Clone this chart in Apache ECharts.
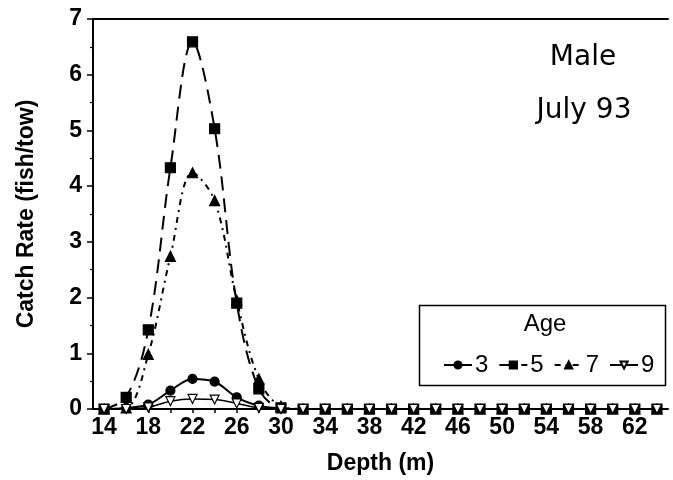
<!DOCTYPE html>
<html>
<head>
<meta charset="utf-8">
<script src="https://cdn.jsdelivr.net/npm/echarts@6/dist/echarts.min.js"></script>
<style>
  html, body { margin: 0; padding: 0; background: #fff; }
  #chart { width: 673px; height: 480px; }
</style>
</head>
<body>
<div id="chart"></div>
<script>
// depth (m), one category every 2 m
var depths = ['14','16','18','20','22','24','26','28','30','32','34','36','38','40','42',
              '44','46','48','50','52','54','56','58','60','62','64'];

// catch rate (fish/tow) by age
var age3 = [0, 0.02, 0.08, 0.33, 0.54, 0.49, 0.21, 0.06, 0.01, 0, 0, 0, 0, 0, 0, 0, 0, 0, 0, 0, 0, 0, 0, 0, 0, 0];
var age5 = [0, 0.21, 1.42, 4.33, 6.59, 5.03, 1.90, 0.36, 0.02, 0, 0, 0, 0, 0, 0, 0, 0, 0, 0, 0, 0, 0, 0, 0, 0, 0];
var age7 = [0, 0.02, 0.98, 2.74, 4.24, 3.74, 1.95, 0.54, 0.05, 0, 0, 0, 0, 0, 0, 0, 0, 0, 0, 0, 0, 0, 0, 0, 0, 0];
var age9 = [0, 0, 0.03, 0.14, 0.18, 0.17, 0.10, 0.02, 0, 0, 0, 0, 0, 0, 0, 0, 0, 0, 0, 0, 0, 0, 0, 0, 0, 0];

var font = 'Liberation Sans, Arial, sans-serif';

var chart = echarts.init(document.getElementById('chart'));

function lineSeries(name, data, symbol, size, dash, width, symColor) {
    return {
        name: name,
        type: 'line',
        data: data,
        smooth: 0.35,
        symbol: symbol,
        symbolSize: size,
        showSymbol: true,
        lineStyle: { color: '#000', width: width, type: dash },
        itemStyle: { color: symColor, borderColor: '#000', borderWidth: 1.2 },
        emphasis: { disabled: true }
    };
}

var option = {
    animation: false,
    backgroundColor: '#fff',
    grid: { left: 93, right: 5, top: 19, bottom: 70 },
    legend: {
        left: 438,
        top: 348,
        itemWidth: 28,
        itemHeight: 9,
        itemGap: 10,
        textStyle: { fontFamily: font, fontSize: 24, color: '#000', padding: [0, 0, 0, -2] },
        data: ['3', '5', '7', '9']
    },
    graphic: [
        { type: 'rect', shape: { x: 419.5, y: 305.5, width: 246, height: 80 },
          style: { fill: '#fff', stroke: '#000', lineWidth: 1.5 }, z: 0 },
        { type: 'text', x: 545, y: 324, style: { text: 'Age', fontFamily: font, fontSize: 24,
          fill: '#000', align: 'center', verticalAlign: 'middle' } },
        { type: 'text', x: 583, y: 58, style: { text: 'Male', fontFamily: 'DejaVu Sans, sans-serif',
          fontSize: 28, fill: '#000', align: 'center', verticalAlign: 'middle' } },
        { type: 'text', x: 584, y: 111, style: { text: 'July 93', fontFamily: 'DejaVu Sans, sans-serif',
          fontSize: 28, fill: '#000', align: 'center', verticalAlign: 'middle' } }
    ],
    xAxis: [{
        type: 'category',
        data: depths,
        boundaryGap: true,
        name: 'Depth (m)',
        nameLocation: 'middle',
        nameGap: 43,
        nameTextStyle: { fontFamily: font, fontSize: 23, fontWeight: 'bold', color: '#000' },
        axisLine: { lineStyle: { color: '#000', width: 2 } },
        axisTick: { show: true, alignWithLabel: true, interval: 0, length: 4, lineStyle: { color: '#000', width: 1.5 } },
        axisLabel: { interval: 1, margin: 7, fontFamily: font, fontSize: 23, fontWeight: 'bold', color: '#000' },
        splitLine: { show: false }
    }, {
        type: 'category',
        data: depths,
        position: 'top',
        axisLine: { lineStyle: { color: '#000', width: 2 } },
        axisTick: { show: false },
        axisLabel: { show: false }
    }],
    yAxis: {
        type: 'value',
        min: 0,
        max: 7,
        interval: 1,
        name: 'Catch Rate (fish/tow)',
        nameLocation: 'middle',
        nameGap: 55,
        nameTextStyle: { fontFamily: font, fontSize: 23, fontWeight: 'bold', color: '#000' },
        axisLine: { show: true, lineStyle: { color: '#000', width: 2 } },
        axisTick: { show: true, length: 6, lineStyle: { color: '#000', width: 1.5 } },
        minorTick: { show: true, splitNumber: 2, length: 3, lineStyle: { color: '#000', width: 1.2 } },
        axisLabel: { margin: 11, fontFamily: font, fontSize: 23, fontWeight: 'bold', color: '#000' },
        splitLine: { show: false }
    },
    series: [
        lineSeries('3', age3, 'circle', 9, 'solid', 2, '#000'),
        lineSeries('5', age5, 'rect', 10, [14, 8], 2, '#000'),
        lineSeries('7', age7, 'triangle', 10, [6, 5, 2, 5], 2, '#000'),
        lineSeries('9', age9, 'path://M0,0 L10,0 L5,9 Z', 9, 'solid', 1.5, '#fff')
    ]
};

chart.setOption(option);
</script>
</body>
</html>
